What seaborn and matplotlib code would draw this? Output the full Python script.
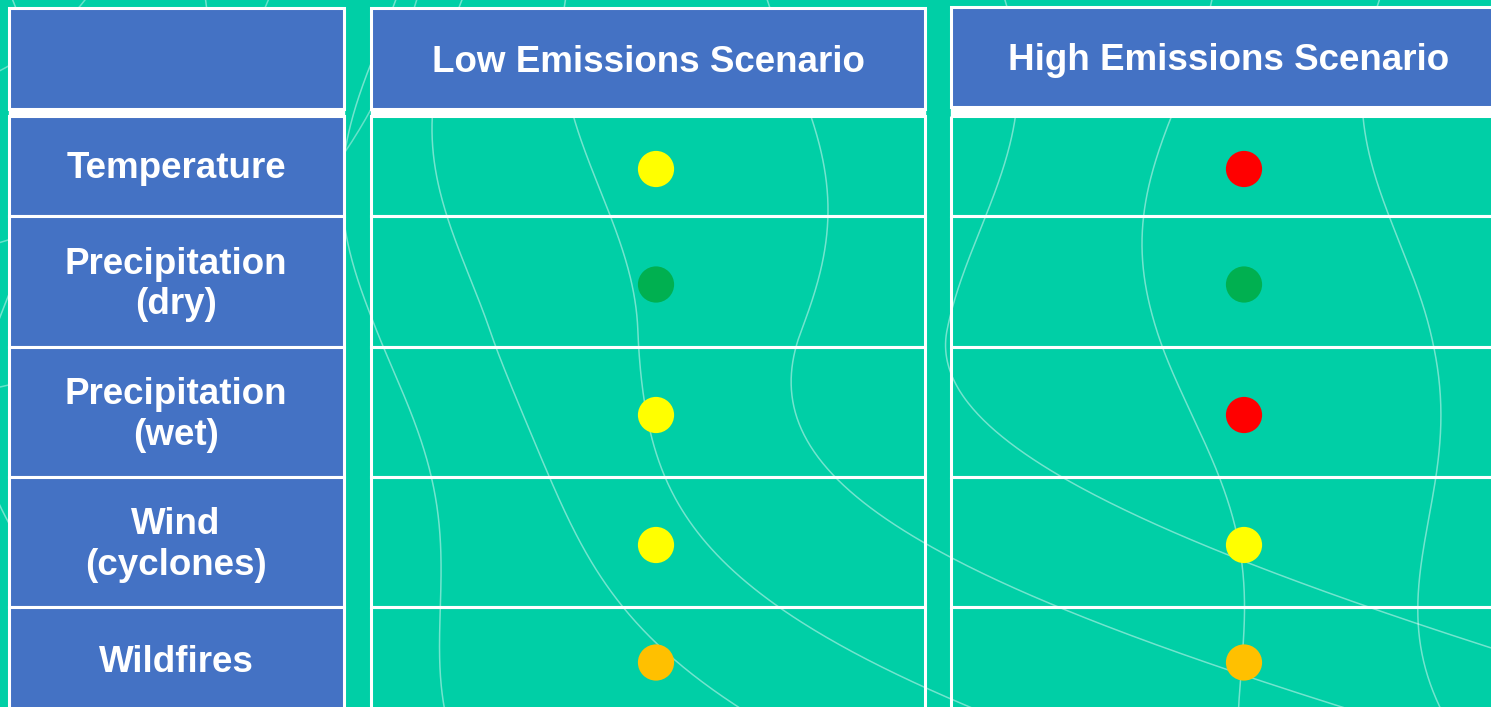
import numpy as np
import pandas as pd
import matplotlib
matplotlib.use("Agg")
import matplotlib.pyplot as plt
from matplotlib.patches import Rectangle
import seaborn as sns

# ---------------- data ----------------
hazards = ["Temperature", "Precipitation\n(dry)", "Precipitation\n(wet)",
           "Wind\n(cyclones)", "Wildfires"]
scenarios = ["Low Emissions Scenario", "High Emissions Scenario"]
low_status = ["yellow", "green", "yellow", "yellow", "orange"]
high_status = ["red", "green", "red", "yellow", "orange"]

status_colors = {"yellow": "#FFFF00", "green": "#00B050",
                 "red": "#FF0000", "orange": "#FFC000"}

BG = "#00CFA6"
BLUE = "#4472C4"
WHITE = "#FFFFFF"

# ---------------- layout (pixels) ----------------
W, H = 1491, 707
col_edges = [(9, 344), (371, 925), (951, 1500)]
header_top = [8, 8, 7]
header_bot = [109, 109, 107]
body_top = 116
row_edges = [116, 216, 347, 477, 607, 712]

sns.set_theme(style="white")
plt.rcParams["font.family"] = ["Liberation Sans", "DejaVu Sans"]

fig = plt.figure(figsize=(W / 100, H / 100), dpi=100)
fig.patch.set_facecolor(BG)
ax = fig.add_axes([0, 0, 1, 1])
ax.set_xlim(0, W)
ax.set_ylim(H, 0)
ax.set_facecolor(BG)
ax.axis("off")

# ---------------- decorative contour lines ----------------
yy = np.linspace(-20, H + 20, 400)
for c in [-150, 10, 170, 380, 470, 600, 790, 980, 1180, 1400, 1560]:
    bend = np.clip((yy - 330) / 100.0, 0, None) ** 2 * (18 + 0.05 * max(c - 400, 0))
    if 450 < c < 1000:
        k = 1.0
    elif c >= 1000:
        k = 0.08
    else:
        k = 0.35
    xx = c + 38 * np.sin(yy / 95.0 + c / 140.0) + bend * k
    ax.plot(xx, yy, color=WHITE, alpha=0.45, lw=1.1, zorder=1)
# arcs top-left background
th = np.linspace(0, np.pi / 2, 200)
for r in [260, 420, 560]:
    ax.plot(r * np.cos(th) - 120, r * np.sin(th) - 160, color=WHITE, alpha=0.4, lw=1.1, zorder=1)

# ---------------- table ----------------
for i, (x0, x1) in enumerate(col_edges):
    ax.add_patch(Rectangle((x0, header_top[i]), x1 - x0, header_bot[i] - header_top[i],
                           facecolor=BLUE, edgecolor=WHITE, lw=2.2, zorder=3))
    ax.add_patch(Rectangle((x0, header_bot[i]), x1 - x0, body_top - header_bot[i],
                           facecolor=WHITE, edgecolor=WHITE, lw=1, zorder=3))
    for r in range(len(hazards)):
        y0, y1 = row_edges[r], row_edges[r + 1]
        face = BLUE if i == 0 else "none"
        ax.add_patch(Rectangle((x0, y0), x1 - x0, y1 - y0, facecolor=face,
                               edgecolor=WHITE, lw=2.2, zorder=3))

row_centers = [(row_edges[r] + row_edges[r + 1]) / 2 for r in range(len(hazards))]

for r, name in enumerate(hazards):
    ax.text(176, row_centers[r] + 3, name, color=WHITE, fontsize=26.5, fontweight="bold",
            ha="center", va="center", linespacing=1.22, zorder=5)

ax.text(648, 62, scenarios[0], color=WHITE, fontsize=26.5, fontweight="bold",
        ha="center", va="center", zorder=5)
ax.text(1229, 60, scenarios[1], color=WHITE, fontsize=26.5, fontweight="bold",
        ha="center", va="center", zorder=5)

# ---------------- dots ----------------
dot_x = {scenarios[0]: 656, scenarios[1]: 1244}
rows = []
for r, h in enumerate(hazards):
    rows.append({"scenario": scenarios[0], "hazard": h, "status": low_status[r]})
    rows.append({"scenario": scenarios[1], "hazard": h, "status": high_status[r]})
df = pd.DataFrame(rows)
df["x"] = df["scenario"].map(dot_x)
df["y"] = df["hazard"].map(dict(zip(hazards, row_centers))) + 3

sns.scatterplot(data=df, x="x", y="y", hue="status", palette=status_colors,
                s=680, linewidth=0, legend=False, ax=ax, zorder=6)
ax.set_xlim(0, W)
ax.set_ylim(H, 0)
ax.axis("off")

fig.savefig("out.png", dpi=100, facecolor=BG)
